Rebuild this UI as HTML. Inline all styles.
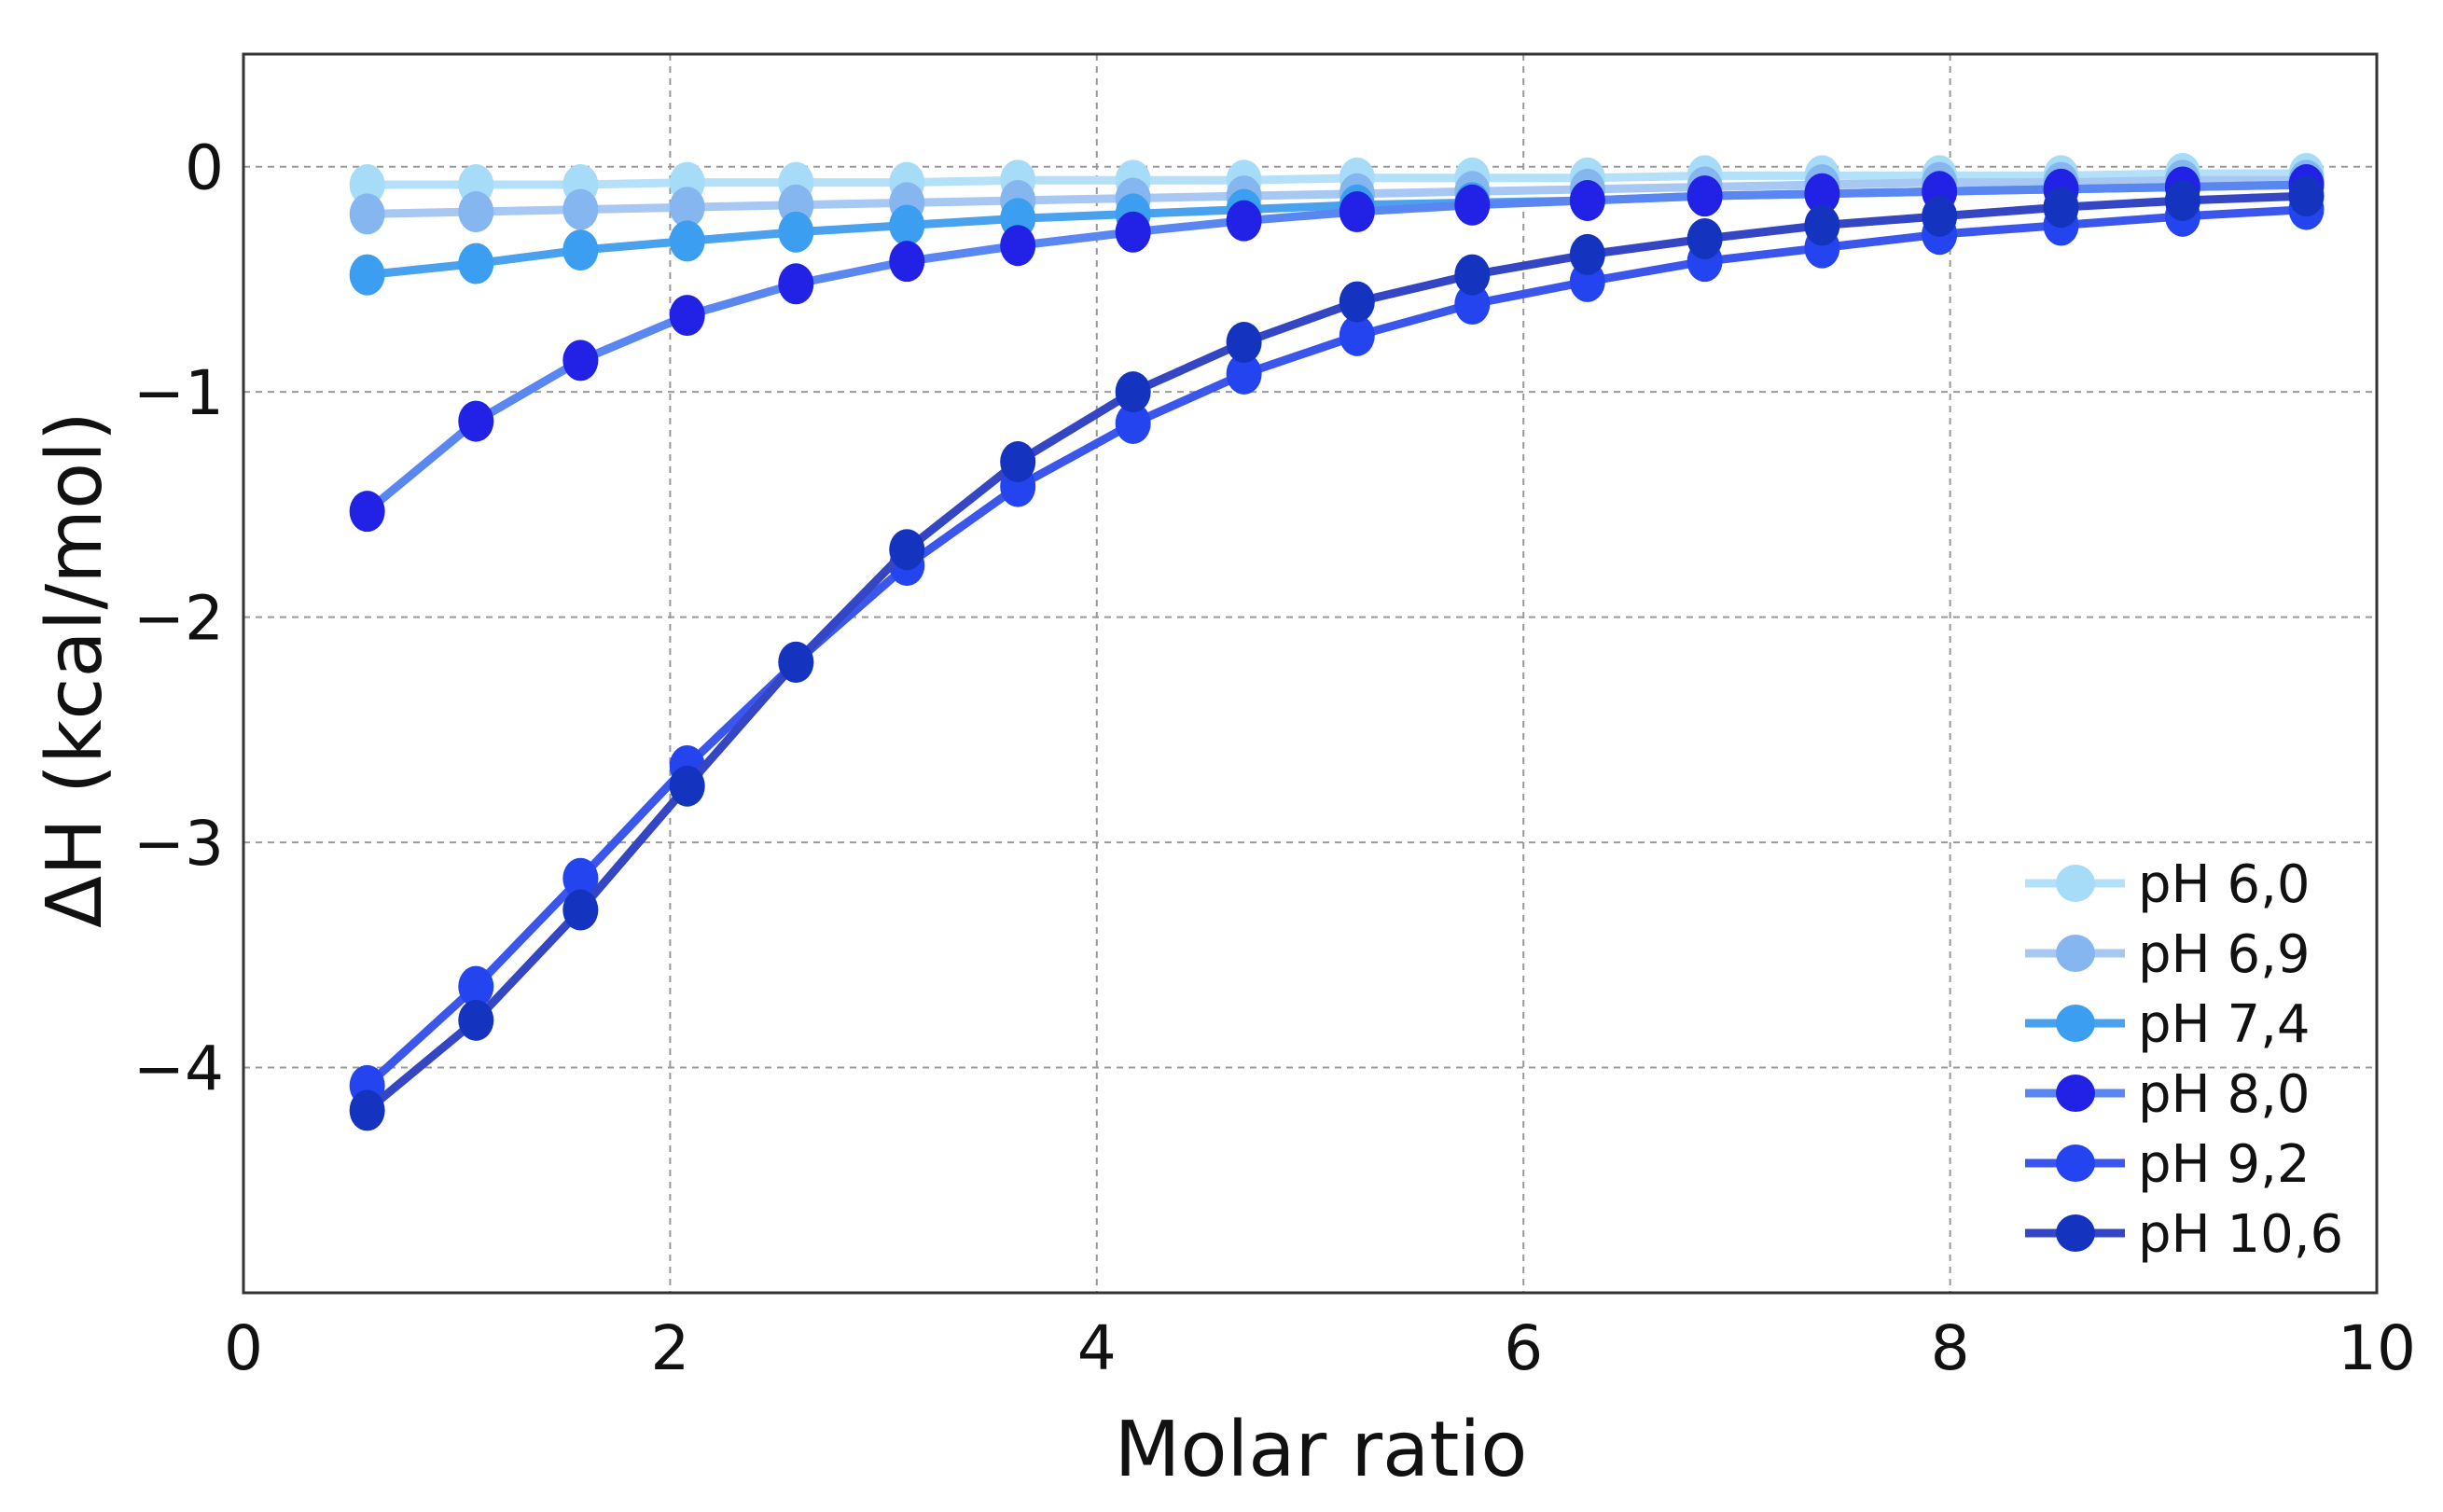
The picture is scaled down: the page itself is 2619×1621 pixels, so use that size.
<!DOCTYPE html>
<html><head><meta charset="utf-8"><style>
html,body{margin:0;padding:0;background:#fff;}
svg{display:block;}
</style></head><body>
<svg id="chart" width="2619" height="1621" viewBox="0 0 2619 1621" xmlns="http://www.w3.org/2000/svg">
<g id="grid"></g>
<g id="series"></g>
<rect x="261" y="58" width="2287" height="1328" fill="none" stroke="#333" stroke-width="3"/>
<g id="ticks"></g>
<text x="1416" y="1582" text-anchor="middle" font-family="DejaVu Sans, sans-serif" font-size="82" font-weight="500" fill="#111">Molar ratio</text>
<text transform="translate(108,718) rotate(-90)" text-anchor="middle" font-family="DejaVu Sans, sans-serif" font-size="82" font-weight="500" fill="#111">ΔH (kcal/mol)</text>
<g id="legend"></g>
</svg>
<script>
const xValues = [0.58,1.09,1.58,2.08,2.59,3.11,3.63,4.17,4.69,5.22,5.76,6.30,6.85,7.40,7.95,8.52,9.09,9.67];
const seriesNames = ["pH 6,0","pH 6,9","pH 7,4","pH 8,0","pH 9,2","pH 10,6"];
const ph60 = [-0.08,-0.08,-0.08,-0.07,-0.07,-0.07,-0.06,-0.06,-0.06,-0.05,-0.05,-0.05,-0.04,-0.04,-0.04,-0.04,-0.03,-0.03];
const ph69 = [-0.21,-0.20,-0.19,-0.18,-0.17,-0.16,-0.15,-0.14,-0.13,-0.12,-0.11,-0.10,-0.09,-0.08,-0.07,-0.07,-0.06,-0.06];
const ph74 = [-0.48,-0.43,-0.37,-0.33,-0.29,-0.26,-0.23,-0.21,-0.19,-0.17,-0.16,-0.15,-0.13,-0.12,-0.11,-0.10,-0.09,-0.08];
const ph80 = [-1.53,-1.13,-0.86,-0.66,-0.52,-0.42,-0.35,-0.29,-0.24,-0.20,-0.17,-0.15,-0.13,-0.12,-0.11,-0.10,-0.09,-0.08];
const ph92 = [-4.08,-3.64,-3.16,-2.66,-2.20,-1.77,-1.42,-1.14,-0.92,-0.75,-0.61,-0.51,-0.42,-0.36,-0.30,-0.26,-0.22,-0.19];
const ph106 = [-4.19,-3.79,-3.30,-2.75,-2.20,-1.70,-1.31,-1.00,-0.78,-0.60,-0.48,-0.39,-0.32,-0.26,-0.22,-0.18,-0.15,-0.13];
const xTicks = [0,2,4,6,8,10];
const yTicks = [0,-1,-2,-3,-4];
const yTickLabels = ["0","−1","−2","−3","−4"];

const NS="http://www.w3.org/2000/svg";
const L=261,R=2548,T=58,B=1386,XMIN=0,XMAX=10,YMIN=-5,YMAX=0.5;
function sx(v){return L+(v-XMIN)/(XMAX-XMIN)*(R-L);}
function sy(v){return B-(v-YMIN)/(YMAX-YMIN)*(B-T);}
function mk(tag,attrs,parent){const e=document.createElementNS(NS,tag);for(const k in attrs)e.setAttribute(k,attrs[k]);parent.appendChild(e);return e;}
const grid=document.getElementById('grid'),ticks=document.getElementById('ticks'),ser=document.getElementById('series'),leg=document.getElementById('legend');
xTicks.forEach(t=>{
  if(t>XMIN&&t<XMAX){const g=mk('line',{x1:sx(t),x2:sx(t),y1:T,y2:B,stroke:'#999','stroke-width':2,'stroke-dasharray':'7 6'},grid);
  
  }
  const tx=mk('text',{x:sx(t),y:1468,'text-anchor':'middle','font-family':'DejaVu Sans, sans-serif','font-size':66,'font-weight':'500',fill:'#111'},ticks);
  tx.textContent=t;
  
  
});
yTicks.forEach((t,i)=>{
  const g=mk('line',{x1:L,x2:R,y1:sy(t),y2:sy(t),stroke:'#999','stroke-width':2,'stroke-dasharray':'7 6'},grid);
  
  
  const tx=mk('text',{x:240,y:sy(t)+24,'text-anchor':'end','font-family':'DejaVu Sans, sans-serif','font-size':66,fill:'#111'},ticks);
  tx.textContent=yTickLabels[i];
  
  
});
const allSeries=[ph60,ph69,ph74,ph80,ph92,ph106];
const lineColors=["#b4e0fa","#a6c8f2","#4aa2ee","#5a86f2","#3a56ec","#3446c4"];
const markColors=["#a6dcf8","#86b6f0","#3c9ef0","#2222e6","#2444f0","#1434c0"];
allSeries.forEach((vals,si)=>{
  const g=mk('g',{},ser);
  
  
  const pts=vals.map((v,i)=>sx(xValues[i])+','+sy(v)).join(' ');
  const pl=mk('polyline',{points:pts,fill:'none',stroke:lineColors[si],'stroke-width':9,'stroke-linejoin':'round'},g);
  
  
  vals.forEach((v,i)=>{
    const c=mk('ellipse',{cx:sx(xValues[i]),cy:sy(v),rx:19,ry:22,fill:markColors[si]},g);
    
    
  });
  const ly=947+si*75;
  const ll=mk('line',{x1:2171,x2:2278,y1:ly,y2:ly,stroke:lineColors[si],'stroke-width':9},leg);
  
  
  const lm=mk('ellipse',{cx:2225,cy:ly,rx:21,ry:20,fill:markColors[si]},leg);
  
  
  const lt=mk('text',{x:2292,y:ly+20,'font-family':'DejaVu Sans, sans-serif','font-size':56,fill:'#111'},leg);
  lt.textContent=seriesNames[si];
  
  
});
</script>
</body></html>
